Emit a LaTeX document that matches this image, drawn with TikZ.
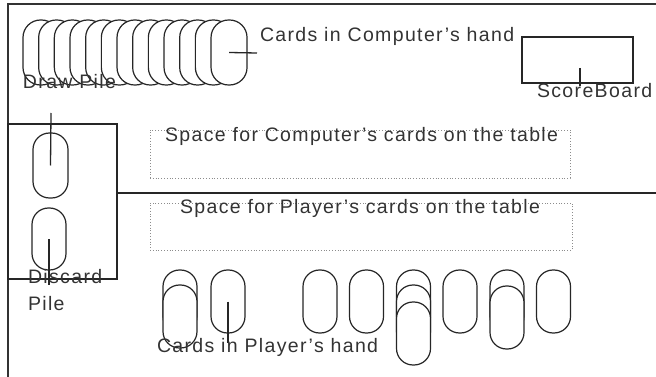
\documentclass[tikz,border=0pt]{standalone}
\usepackage{fontspec}
\setmainfont{Liberation Sans}[LetterSpace=7]
\begin{document}
\begin{tikzpicture}[x=1pt,y=-1pt,
  every node/.style={inner sep=0pt, outer sep=0pt},
  ccard/.style={draw=black!85, line width=1.2pt, fill=white, rounded corners=17.5pt,
    minimum width=36pt, minimum height=65pt},
  pcard/.style={draw=black!85, line width=1.2pt, fill=white, rounded corners=16.5pt,
    minimum width=34pt, minimum height=63pt},
  lbl/.style={anchor=base west, text=black!80, font=\fontsize{19.5}{22}\selectfont},
  frame/.style={draw=black!80, line width=1.8pt},
  boxline/.style={draw=black!85, line width=1.4pt},
  spacebox/.style={draw=black!45, dotted, line width=0.8pt},
  conn/.style={draw=black!85, line width=1.3pt}]
\useasboundingbox (0,0) rectangle (656,377);

% outer frame
\draw[frame] (656,4) -- (8,4) -- (8,377);
% pile box and divider
\node[boxline, draw, minimum width=109pt, minimum height=155pt] (pilebox) at (62.5,201.5) {};
\draw[boxline] (pilebox.east |- 0,193) -- (656,193);

% spaces for cards on the table
\node[spacebox, minimum width=420pt, minimum height=48pt] (compspace) at (360,154) {};
\node[spacebox, minimum width=422pt, minimum height=47pt] (playspace) at (361,226.5) {};

% computer's hand
\foreach \i in {0,...,12} {
  \node[ccard] (c\i) at ({41+15.67*\i},52.5) {};
}
\coordinate (chand) at (257,53);
\draw[conn] (c12.center) -- (chand);

% scoreboard
\node[boxline, draw, minimum width=111pt, minimum height=46pt] (sb) at (577.5,60) {};
\coordinate (sbtop) at (580,68);
\draw[conn] (sbtop) -- (580,86);

% draw pile and discard pile
\node[pcard, minimum width=35pt, minimum height=65pt] (draw) at (50.5,165.5) {};
\coordinate (drawl) at (51,113);
\draw[conn] (draw.center) -- (drawl);
\node[pcard, minimum height=62pt] (disc) at (49,239) {};
\coordinate (discl) at (49,285);
\draw[conn] (disc.center) -- (discl);

% player's hand
\node[pcard] (p1a) at (180,301.5) {};
\node[pcard] (p1b) at (180,316.5) {};
\node[pcard] (p2) at (228,301.5) {};
\node[pcard] (p3) at (320,301.5) {};
\node[pcard] (p4) at (366.5,301.5) {};
\node[pcard] (p5a) at (413.5,301.5) {};
\node[pcard] (p5b) at (413.5,316.5) {};
\node[pcard] (p5c) at (413.5,333.5) {};
\node[pcard] (p6) at (460,301.5) {};
\node[pcard] (p7a) at (507,301.5) {};
\node[pcard] (p7b) at (507,317.5) {};
\node[pcard] (p8) at (553.5,301.5) {};
\coordinate (phand) at (228,343);
\draw[conn] (p2.center) -- (phand);

% labels
\node[lbl] (tch) at (260,42) {Cards in Computer's hand};
\node[lbl] (tdp) at (23,89) {Draw Pile};
\node[lbl] (tsb) at (537,98) {ScoreBoard};
\node[lbl] (tcs) at (165,142) {Space for Computer's cards on the table};
\node[lbl] (tps) at (180,213) {Space for Player's cards on the table};
\node[lbl] (tdc) at (28,283) {Discard};
\node[lbl] (tpl) at (28,310) {Pile};
\node[lbl] (tph) at (157,352) {Cards in Player's hand};
\end{tikzpicture}
\end{document}
